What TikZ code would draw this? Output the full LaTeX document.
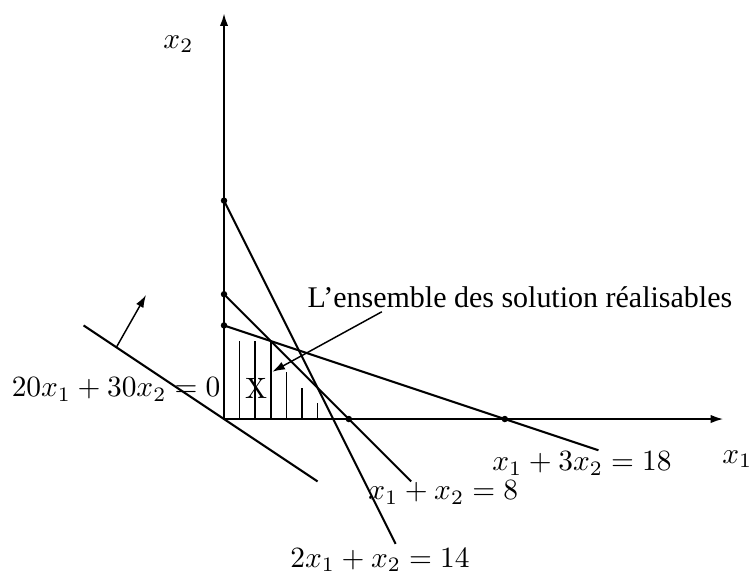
\documentclass[tikz,border=0pt]{standalone}
\usepackage{amsmath}
\usepackage{fontspec}
\newfontfamily\textefont[Ligatures=TeX]{Liberation Serif}
\usepackage{tikz}
\usetikzlibrary{
  arrows.meta,
  calc
}
\tikzset{
  axe/.style={line width=0.6pt, -{Latex[length=1.5mm, width=1mm]}},
  contrainte/.style={line width=0.7pt},
  hachure/.style={line width=0.5pt},
  fleche/.style={line width=0.5pt, -{Latex[length=1.5mm, width=1mm]}},
  sommet/.style={circle, fill, inner sep=0pt, minimum size=2.2pt}
}

\begin{document}
\begin{tikzpicture}[x=0.1865cm, y=0.1865cm]
  \useasboundingbox (-14.36,-9.79) rectangle (33.78,26.86);
  % axes
  \coordinate (O) at (0,0);
  \coordinate (xfin) at (32,0);
  \coordinate (yfin) at (0,26);
  \draw[axe] (O) -- (xfin);
  \draw[axe] (O) -- (yfin);
  \node (labx) at (32.9,-2.56) {$x_1$};
  \node (laby) at (-2.92,24.03) {$x_2$};

  % region realisable
  \foreach \i/\h in {1/5, 2/5, 3/5, 4/3, 5/2, 6/1}
    \draw[hachure] (\i,0) -- (\i,\h);
  \node (X) at (2.06,1.97) {X};

  % contraintes
  \node[sommet] (c14) at (0,14) {};
  \node[sommet] (c8) at (0,8) {};
  \node[sommet] (c6) at (0,6) {};
  \node[sommet] (d8) at (8,0) {};
  \node[sommet] (d18) at (18,0) {};
  \coordinate (e14) at (11,-8);
  \coordinate (e8) at (12,-4);
  \coordinate (e18) at (24,-2);
  \draw[contrainte] (c14.center) -- (e14);
  \draw[contrainte] (c8.center) -- (d8.center) -- (e8);
  \draw[contrainte] (c6.center) -- (d18.center) -- (e18);
  \node (eq14) at (10.0,-9.02) {$2x_1 + x_2 = 14$};
  \node (eq8) at (14.05,-4.71) {$x_1 + x_2 = 8$};
  \node (eq18) at (22.95,-2.85) {$x_1 + 3x_2 = 18$};

  % fonction objectif
  \coordinate (z1) at (-9,6);
  \coordinate (z2) at (6,-4);
  \draw[contrainte] (z1) -- (z2);
  \coordinate (n1) at (-6.9,4.6);
  \coordinate (n2) at (-5,7.95);
  \draw[fleche] (n1) -- (n2);
  \node (eqz) at (-6.92,1.90) {$20x_1 + 30x_2 = 0$};

  \node[inner sep=1pt, font=\textefont\fontsize{10.2}{12}\selectfont] (ensemble) at (18.97,7.78) {L’ensemble des solution réalisables};
  \coordinate (cible) at (3.1,3.03);
  \draw[fleche] ($(ensemble.south west)!0.18!(ensemble.south east)$) -- (cible);
\end{tikzpicture}
\end{document}
